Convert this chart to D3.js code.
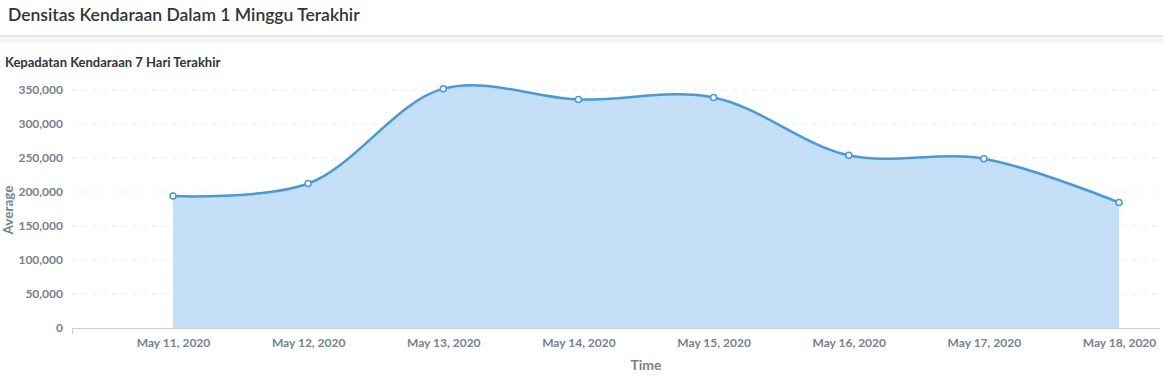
<!DOCTYPE html>
<html>
<head>
<meta charset="utf-8">
<script src="https://cdn.jsdelivr.net/npm/d3@7"></script>
<style>
  body { margin: 0; background: #fff; font-family: Lato, "Open Sans", sans-serif; }
  svg { display: block; }
</style>
</head>
<body>
<div id="chart"></div>
<script>
'use strict';

var days = ['2020-05-11', '2020-05-12', '2020-05-13', '2020-05-14',
            '2020-05-15', '2020-05-16', '2020-05-17', '2020-05-18'];
var averages = [194000, 212500, 352000, 336000, 339000, 254000, 249000, 184500];
var yTicks = [0, 50000, 100000, 150000, 200000, 250000, 300000, 350000];

var width = 1163;
var height = 378;
var plotLeft = 72;
var plotRight = 1160;
var plotBottom = 328;

var parse = d3.timeParse('%Y-%m-%d');
var points = days.map(function (d, i) {
  return { date: parse(d), value: averages[i] };
});

var svg = d3.select('#chart').append('svg')
  .attr('width', width)
  .attr('height', height);

// header
svg.append('text')
  .attr('x', 8).attr('y', 21)
  .attr('font-size', 17.5)
  .attr('font-weight', 600)
  .attr('fill', '#2e353b')
  .text('Densitas Kendaraan Dalam 1 Minggu Terakhir');

svg.append('rect').attr('x', 0).attr('y', 35).attr('width', width).attr('height', 2).attr('fill', '#e4e6e8');
svg.append('rect').attr('x', 0).attr('y', 37).attr('width', width).attr('height', 6).attr('fill', '#f6f7f8');

svg.append('text')
  .attr('x', 5).attr('y', 67)
  .attr('font-size', 13)
  .attr('font-weight', 700)
  .attr('fill', '#2e353b')
  .text('Kepadatan Kendaraan 7 Hari Terakhir');

var x = d3.scaleTime()
  .domain(d3.extent(points, function (d) { return d.date; }))
  .range([173, 1119]);

var y = d3.scaleLinear()
  .domain([0, 350000])
  .range([plotBottom, 90]);

// grid
svg.append('g').selectAll('line')
  .data(yTicks.slice(1))
  .enter().append('line')
  .attr('x1', plotLeft).attr('x2', plotRight)
  .attr('y1', function (d) { return y(d); })
  .attr('y2', function (d) { return y(d); })
  .attr('stroke', '#ededed')
  .attr('stroke-dasharray', '5,5');

// y tick labels
var yAxis = svg.append('g')
  .attr('transform', 'translate(' + plotLeft + ',0)')
  .call(d3.axisLeft(y).tickValues(yTicks).tickSize(0).tickPadding(9).tickFormat(d3.format(',')));
yAxis.select('.domain').remove();
yAxis.selectAll('text')
  .attr('font-family', 'Lato, sans-serif')
  .attr('font-size', 12)
  .attr('font-weight', 700)
  .attr('fill', '#74838f');

// area + line
var curve = d3.curveCatmullRom.alpha(0.5);
var area = d3.area()
  .x(function (d) { return x(d.date); })
  .y0(y(0))
  .y1(function (d) { return y(d.value); })
  .curve(curve);
var line = d3.line()
  .x(function (d) { return x(d.date); })
  .y(function (d) { return y(d.value); })
  .curve(curve);

svg.append('path').datum(points)
  .attr('d', area)
  .attr('fill', '#c4dff6');

// x axis
var xAxis = svg.append('g')
  .attr('transform', 'translate(0,' + plotBottom + ')')
  .call(d3.axisBottom(x)
    .tickValues(points.map(function (d) { return d.date; }))
    .tickSize(0).tickPadding(10)
    .tickFormat(d3.timeFormat('%b %-d, %Y')));
xAxis.select('.domain').remove();
xAxis.selectAll('text')
  .attr('font-family', 'Lato, sans-serif')
  .attr('font-size', 12)
  .attr('font-weight', 700)
  .attr('fill', '#74838f');

svg.append('line')
  .attr('x1', plotLeft).attr('x2', plotRight)
  .attr('y1', plotBottom + 0.5).attr('y2', plotBottom + 0.5)
  .attr('stroke', '#c9cdd1');
svg.append('line')
  .attr('x1', plotLeft + 0.5).attr('x2', plotLeft + 0.5)
  .attr('y1', plotBottom).attr('y2', plotBottom + 6)
  .attr('stroke', '#c9cdd1');

svg.append('path').datum(points)
  .attr('d', line)
  .attr('fill', 'none')
  .attr('stroke', '#439ae2')
  .attr('stroke-width', 2.5);

svg.append('g').selectAll('circle')
  .data(points)
  .enter().append('circle')
  .attr('cx', function (d) { return x(d.date); })
  .attr('cy', function (d) { return y(d.value); })
  .attr('r', 3)
  .attr('fill', '#fff')
  .attr('stroke', '#439ae2')
  .attr('stroke-width', 1.5);

// axis titles
svg.append('text')
  .attr('x', 646).attr('y', 370)
  .attr('text-anchor', 'middle')
  .attr('font-size', 14)
  .attr('font-weight', 700)
  .attr('fill', '#74838f')
  .text('Time');

svg.append('text')
  .attr('transform', 'translate(13,210) rotate(-90)')
  .attr('text-anchor', 'middle')
  .attr('font-size', 13.5)
  .attr('font-weight', 700)
  .attr('fill', '#74838f')
  .text('Average');
</script>
</body>
</html>
